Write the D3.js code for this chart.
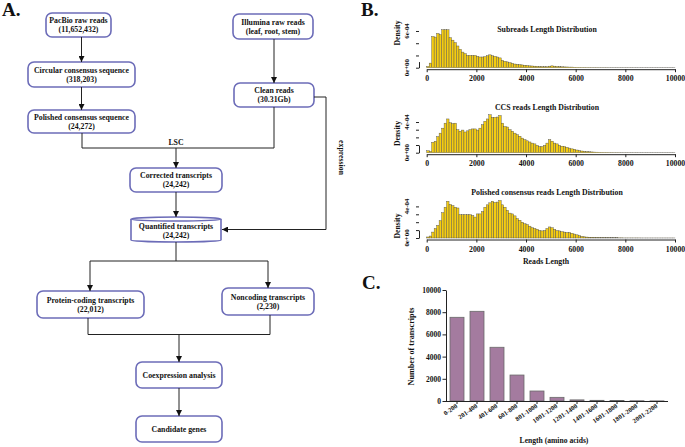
<!DOCTYPE html>
<html>
<head>
<meta charset="utf-8">
<script src="https://cdn.jsdelivr.net/npm/d3@7"></script>
<style>
  html, body { margin: 0; padding: 0; background: #fff; }
  svg text { font-family: "Liberation Serif", "Times New Roman", serif; font-weight: bold; fill: #111; }
</style>
</head>
<body>
<div id="chart"></div>
<script>
// -------------------------------
// Data
// -------------------------------
// B. read length histograms, density (x 1e-4) per 100 bp bin, 0..10000
const subreadsDensity = [
  0.2, 0.75, 5.1, 5.0, 5.6, 5.4, 6.2, 6.2, 6.2, 4.9,
  4.5, 4.1, 3.55, 3.0, 2.55, 2.3, 2.0, 2.0, 2.0, 2.0,
  1.85, 1.75, 1.75, 1.8, 1.95, 2.1, 1.95, 1.85, 1.75, 1.6,
  1.2, 1.05, 0.95, 0.82, 0.72, 0.6, 0.55, 0.5, 0.45, 0.4,
  0.35, 0.3, 0.28, 0.25, 0.22, 0.2, 0.18, 0.16, 0.15, 0.25,
  0.3, 0.25, 0.2, 0.18, 0.15, 0.13, 0.12, 0.1, 0.1, 0.08,
  0.07, 0.06, 0.05, 0.05, 0.04, 0.04, 0.03, 0.03, 0.03, 0.02,
  0.02, 0.02, 0.02, 0.01, 0.01, 0.01, 0.01, 0.01, 0.01, 0.01,
  0.01, 0.01, 0.01, 0.01, 0.005, 0.005, 0.005, 0.005, 0.005, 0.005,
  0.005, 0.005, 0.005, 0.005, 0.005, 0.005, 0.005, 0.005, 0.005, 0.005
];
const ccsDensity = [
  0.26, 0.17, 1.35, 1.5, 2.1, 2.55, 3.2, 3.85, 4.4, 3.9,
  3.8, 3.85, 3.0, 2.8, 2.95, 2.7, 2.85, 3.0, 3.1, 3.1,
  2.95, 3.2, 3.65, 4.1, 4.4, 4.95, 4.6, 4.6, 4.65, 4.85,
  3.85, 3.4, 3.35, 3.0, 2.8, 2.55, 2.35, 2.15, 1.9, 1.7,
  1.55, 1.4, 1.25, 1.15, 0.95, 0.8, 0.8, 0.95, 1.25, 1.7,
  1.5, 1.25, 1.15, 0.95, 0.85, 0.8, 0.7, 0.6, 0.5, 0.45,
  0.35, 0.28, 0.22, 0.18, 0.15, 0.12, 0.1, 0.08, 0.07, 0.06,
  0.05, 0.04, 0.04, 0.03, 0.03, 0.02, 0.02, 0.02, 0.01, 0.01,
  0.01, 0.01, 0.01, 0.01, 0.01, 0.005, 0.005, 0.005, 0.005, 0.005,
  0.005, 0.005, 0.005, 0.005, 0.005, 0.005, 0.005, 0.005, 0.005, 0.005
];
const polishedDensity = [
  0.13, 0.25, 0.75, 1.2, 1.6, 2.2, 3.2, 3.9, 4.65, 4.25,
  4.1, 3.9, 3.8, 2.95, 2.95, 2.95, 2.95, 2.95, 2.85, 2.65,
  3.05, 3.05, 3.35, 3.9, 4.2, 4.45, 4.65, 4.5, 4.55, 4.75,
  4.2, 3.9, 3.5, 3.15, 3.05, 2.8, 2.45, 2.25, 2.0, 1.8,
  1.7, 1.5, 1.3, 1.2, 1.1, 0.95, 0.9, 0.95, 1.2, 1.4,
  1.3, 1.1, 0.95, 0.9, 0.8, 0.75, 0.7, 0.7, 0.6, 0.5,
  0.4, 0.3, 0.2, 0.15, 0.12, 0.1, 0.1, 0.08, 0.07, 0.06,
  0.05, 0.05, 0.04, 0.04, 0.03, 0.03, 0.03, 0.02, 0.02, 0.01,
  0.01, 0.01, 0.01, 0.01, 0.01, 0.01, 0.005, 0.005, 0.005, 0.005,
  0.005, 0.005, 0.005, 0.005, 0.005, 0.005, 0.005, 0.005, 0.005, 0.005
];
const histTitles = ["Subreads Length Distribution", "CCS reads Length Distribution", "Polished consensus reads Length Distribution"];
const readLengthTicks = [0, 2000, 4000, 6000, 8000, 10000];

// C. ORF length distribution
const lengthBins = ["0-200", "201-400", "401-600", "601-800", "801-1000", "1001-1200",
  "1201-1400", "1401-1600", "1601-1800", "1801-2000", "2001-2200"];
const transcriptCounts = [7540, 8080, 4840, 2340, 900, 330, 100, 60, 40, 20, 10];
const countTicks = [0, 2000, 4000, 6000, 8000, 10000];

// A. pipeline boxes
const flowBoxes = [
  { id: "pacbio",    lines: ["PacBio raw reads", "(11,652,432)"] },
  { id: "illumina",  lines: ["Illumina raw reads", "(leaf, root, stem)"] },
  { id: "ccs",       lines: ["Circular consensus sequence", "(318,203)"] },
  { id: "clean",     lines: ["Clean reads", "(30.31Gb)"] },
  { id: "polished",  lines: ["Polished consensus sequence", "(24,272)"] },
  { id: "corrected", lines: ["Corrected transcripts", "(24,242)"] },
  { id: "quant",     lines: ["Quantified transcripts", "(24,242)"] },
  { id: "protein",   lines: ["Protein-coding transcripts", "(22,012)"] },
  { id: "noncoding", lines: ["Noncoding transcripts", "(2,230)"] },
  { id: "coexp",     lines: ["Coexpression analysis"] },
  { id: "candidate", lines: ["Candidate genes"] }
];

// -------------------------------
// SVG
// -------------------------------
const W = 685, H = 447;
const svg = d3.select("#chart").append("svg")
  .attr("width", W).attr("height", H);
svg.append("rect").attr("width", W).attr("height", H).attr("fill", "#fff");

// panel letters
svg.append("text").attr("x", 2).attr("y", 16).style("font-size", "19px").text("A.");
svg.append("text").attr("x", 361).attr("y", 16).style("font-size", "19px").text("B.");
svg.append("text").attr("x", 362).attr("y", 289).style("font-size", "19px").text("C.");

// -------------------------------
// A. Flowchart
// -------------------------------
const boxLayout = {
  pacbio:    { x: 46,  y: 13,  w: 65,  h: 24 },
  illumina:  { x: 233, y: 14,  w: 80,  h: 25 },
  ccs:       { x: 28,  y: 62,  w: 107, h: 25 },
  clean:     { x: 234, y: 83,  w: 80,  h: 24 },
  polished:  { x: 28,  y: 110, w: 107, h: 23 },
  corrected: { x: 130, y: 168, w: 92,  h: 24 },
  quant:     { x: 131, y: 217, w: 90,  h: 25 },
  protein:   { x: 37,  y: 291, w: 107, h: 27 },
  noncoding: { x: 222, y: 288, w: 92,  h: 27 },
  coexp:     { x: 136, y: 362, w: 86,  h: 26 },
  candidate: { x: 136, y: 416, w: 86,  h: 26 }
};

const defs = svg.append("defs");
defs.append("marker")
  .attr("id", "arrow")
  .attr("viewBox", "0 0 10 10")
  .attr("refX", 10).attr("refY", 5)
  .attr("markerWidth", 6).attr("markerHeight", 6)
  .attr("markerUnits", "userSpaceOnUse")
  .attr("orient", "auto")
  .append("path").attr("d", "M0,0 L10,5 L0,10 Z").attr("fill", "#111");

const flow = svg.append("g");
const boxStroke = "#6c6cb8";

flowBoxes.forEach(b => {
  const L = boxLayout[b.id];
  if (b.id === "quant") {
    // drum shape
    const x0 = L.x, x1 = L.x + L.w, t = L.y + 2, bt = L.y + L.h - 2, rx = L.w / 2, ry = 2;
    flow.append("path")
      .attr("d", `M${x0},${t} L${x0},${bt} A${rx},${ry} 0 0 0 ${x1},${bt} L${x1},${t} A${rx},${ry} 0 0 0 ${x0},${t} Z`)
      .attr("fill", "#fff").attr("stroke", boxStroke).attr("stroke-width", 1.6);
    flow.append("path")
      .attr("d", `M${x0},${t} A${rx},${ry} 0 0 0 ${x1},${t}`)
      .attr("fill", "none").attr("stroke", boxStroke).attr("stroke-width", 1.4);
  } else {
    flow.append("rect")
      .attr("x", L.x).attr("y", L.y).attr("width", L.w).attr("height", L.h)
      .attr("rx", 6).attr("ry", 6)
      .attr("fill", "#fff").attr("stroke", boxStroke).attr("stroke-width", 1.6);
  }
  const cx = L.x + L.w / 2, cy = L.y + L.h / 2 + (b.id === "quant" ? 1 : 0);
  const n = b.lines.length;
  b.lines.forEach((t, i) => {
    flow.append("text")
      .attr("x", cx)
      .attr("y", cy + (i - (n - 1) / 2) * 9.2)
      .attr("dy", "0.35em")
      .attr("text-anchor", "middle")
      .style("font-size", "7.8px")
      .text(t);
  });
});

// connectors
const line = d3.line();
function connector(points, arrow) {
  const p = flow.append("path")
    .attr("d", line(points))
    .attr("fill", "none").attr("stroke", "#222").attr("stroke-width", 1);
  if (arrow) p.attr("marker-end", "url(#arrow)");
}
const B = boxLayout;
const bottom = k => B[k].y + B[k].h, right = k => B[k].x + B[k].w;

connector([[81.5, bottom("pacbio")], [81.5, B.ccs.y]], true);
connector([[81.5, bottom("ccs")], [81.5, B.polished.y]], true);
connector([[274, bottom("illumina")], [274, B.clean.y]], true);
connector([[82, bottom("polished")], [82, 148], [274, 148], [274, bottom("clean")]], false);
connector([[176, 148], [176, B.corrected.y]], true);
connector([[176, bottom("corrected")], [176, B.quant.y]], true);
connector([[right("clean"), 97], [326, 97], [326, 229.5], [right("quant") + 1, 229.5]], true);
connector([[176, bottom("quant")], [176, 261]], false);
connector([[90, 261], [268, 261]], false);
connector([[90, 261], [90, B.protein.y]], true);
connector([[268, 261], [268, B.noncoding.y]], true);
connector([[88, bottom("protein")], [88, 334.5], [270, 334.5], [270, bottom("noncoding")]], false);
connector([[179, 334.5], [179, B.coexp.y]], true);
connector([[179, bottom("coexp")], [179, B.candidate.y]], true);

flow.append("text").attr("x", 176).attr("y", 144.5).attr("text-anchor", "middle")
  .style("font-size", "7.8px").text("LSC");
flow.append("text")
  .attr("transform", "translate(338.5,157.5) rotate(90)")
  .attr("text-anchor", "middle")
  .style("font-size", "7.8px").text("expression");

// -------------------------------
// B. Histograms
// -------------------------------
const histSeries = [subreadsDensity, ccsDensity, polishedDensity];
const histLayout = [
  { base: 67.7,  unit: 6.12, tickStep: 2, maxTick: 6, titleY: 32,    densY: 33 },
  { base: 152.7, unit: 7.67, tickStep: 1, maxTick: 4, titleY: 110,   densY: 133.5 },
  { base: 238,   unit: 7.9,  tickStep: 1, maxTick: 4, titleY: 194.5, densY: 226 }
];
const xLen = d3.scaleLinear().domain([0, 10000]).range([426.7, 675]);
const binSize = 100;

function styleAxisText(sel, size) {
  sel.selectAll("text")
    .attr("fill", "#111")
    .style("font-size", size)
    .style("font-family", "Liberation Serif, serif")
    .style("font-weight", "bold");
  sel.selectAll("path, line").attr("stroke", "#222");
}

histSeries.forEach((series, k) => {
  const L = histLayout[k];
  const y = d3.scaleLinear().domain([0, 1]).range([L.base, L.base - L.unit]);
  const g = svg.append("g");

  g.selectAll("rect")
    .data(series)
    .enter().append("rect")
      .attr("x", (d, i) => xLen(i * binSize))
      .attr("width", xLen(binSize) - xLen(0))
      .attr("y", d => y(d))
      .attr("height", d => y(0) - y(d))
      .attr("fill", "#f4cc12")
      .attr("stroke", "#4a4a4a")
      .attr("stroke-width", 0.4);

  // x axis
  const xa = g.append("g")
    .attr("transform", `translate(0,${L.base + 1.5})`)
    .call(d3.axisBottom(xLen).tickValues(readLengthTicks).tickSize(3).tickSizeOuter(0)
      .tickPadding(3.5).tickFormat(d3.format("d")));
  styleAxisText(xa, "7.8px");

  // y axis
  const yTicks = d3.range(0, L.maxTick + 0.001, L.tickStep);
  const ya = g.append("g")
    .attr("transform", "translate(419,0)")
    .call(d3.axisLeft(y).tickValues(yTicks).tickSize(3).tickSizeOuter(0).tickFormat(""));
  ya.selectAll("path, line").attr("stroke", "#222");
  [0, L.maxTick].forEach(v => {
    g.append("text")
      .attr("transform", `translate(409,${y(v)}) rotate(-90)`)
      .attr("text-anchor", "middle")
      .style("font-size", "6.8px")
      .text(v === 0 ? "0e+00" : `${v}e-04`);
  });

  g.append("text")
    .attr("transform", `translate(399.5,${L.densY}) rotate(-90)`)
    .attr("text-anchor", "middle")
    .style("font-size", "7.8px").text("Density");

  g.append("text")
    .attr("x", 547).attr("y", L.titleY)
    .attr("text-anchor", "middle")
    .style("font-size", "7.8px").text(histTitles[k]);
});

svg.append("text").attr("x", 546).attr("y", 263.5).attr("text-anchor", "middle")
  .style("font-size", "7.8px").text("Reads Length");

// -------------------------------
// C. Bar chart
// -------------------------------
const xc = d3.scaleBand().domain(lengthBins).range([446, 668]).paddingInner(0.3).paddingOuter(0.2);
const yc = d3.scaleLinear().domain([0, 10000]).range([401, 290]);
const gc = svg.append("g");

gc.selectAll("rect")
  .data(lengthBins)
  .enter().append("rect")
    .attr("x", d => xc(d))
    .attr("width", xc.bandwidth())
    .attr("y", (d, i) => yc(transcriptCounts[i]))
    .attr("height", (d, i) => yc(0) - yc(transcriptCounts[i]))
    .attr("fill", "#a47b9f")
    .attr("stroke", "#6a6a6a")
    .attr("stroke-width", 0.8);

const yca = gc.append("g")
  .attr("transform", "translate(446,0)")
  .call(d3.axisLeft(yc).tickValues(countTicks).tickSize(3.5).tickSizeOuter(0)
    .tickPadding(1.5).tickFormat(d3.format("d")));
styleAxisText(yca, "7.5px");

const xca = gc.append("g")
  .attr("transform", "translate(0,401)")
  .call(d3.axisBottom(xc).tickSize(3).tickSizeOuter(0));
xca.select(".domain").attr("d", "M446,0.5H668");
styleAxisText(xca, "6.6px");
xca.selectAll("text")
  .attr("text-anchor", "end")
  .attr("dy", null)
  .attr("y", 0)
  .attr("transform", "translate(1,6) rotate(-35)");

gc.append("text")
  .attr("transform", "translate(414,346.5) rotate(-90)")
  .attr("text-anchor", "middle")
  .style("font-size", "8.2px").text("Number of transcripts");
gc.append("text").attr("x", 554).attr("y", 443).attr("text-anchor", "middle")
  .style("font-size", "7.6px").text("Length (amino acids)");
</script>
</body>
</html>
